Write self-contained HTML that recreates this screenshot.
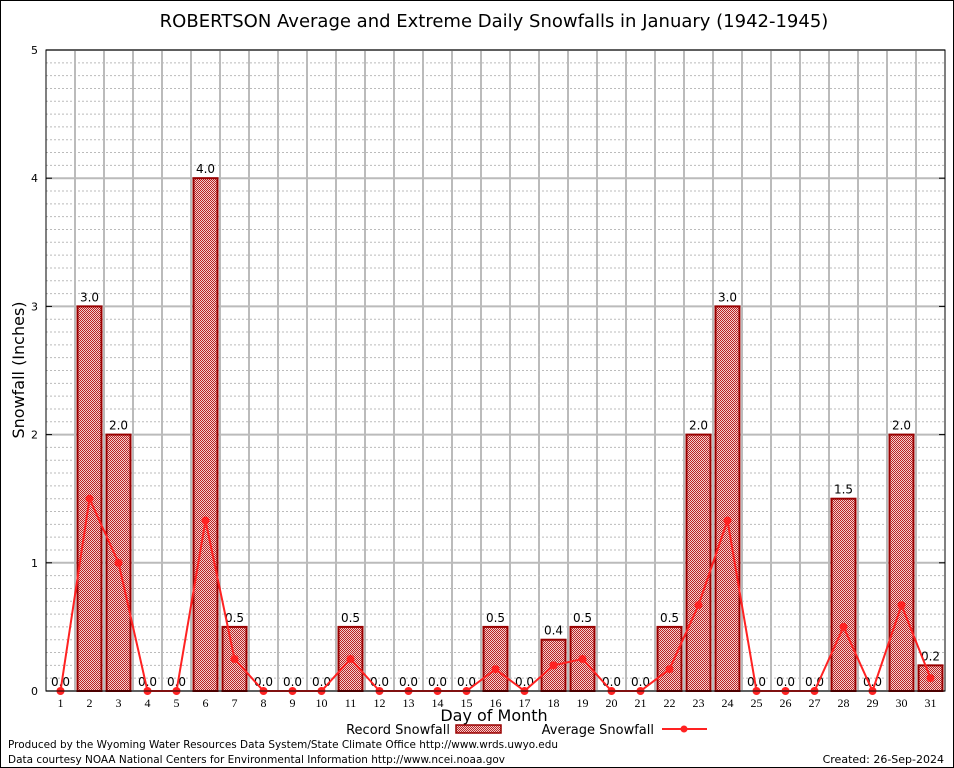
<!DOCTYPE html>
<html><head><meta charset="utf-8"><style>
body{margin:0;background:#fff;}
svg{display:block;font-family:"DejaVu Sans","Liberation Sans",sans-serif;}
</style></head><body>
<svg id="c" width="954" height="768" xmlns="http://www.w3.org/2000/svg">
<defs><pattern id="hatch" width="2" height="2" patternUnits="userSpaceOnUse"><rect width="2" height="2" fill="#f2d0d0"/><rect width="1" height="1" fill="#b22"/><rect x="1" y="1" width="1" height="1" fill="#b22"/></pattern></defs>
<rect x="0.5" y="0.5" width="953" height="767" fill="#fff" stroke="#000"/>
<text x="494" y="27" font-size="18" text-anchor="middle">ROBERTSON Average and Extreme Daily Snowfalls in January (1942-1945)</text>
<g id="grid"></g><g id="bars"></g><g id="line"></g><g id="axes"></g>
<text transform="translate(24,370) rotate(-90)" font-size="16" text-anchor="middle">Snowfall (Inches)</text>
<text x="494" y="721" font-size="16" text-anchor="middle">Day of Month</text>
<g>
<text x="450" y="734" font-size="13" text-anchor="end">Record Snowfall</text>
<rect x="456" y="725" width="45" height="8" fill="url(#hatch)" stroke="#900" stroke-width="1.5"/>
<text x="654" y="734" font-size="13" text-anchor="end">Average Snowfall</text>
<line x1="662" y1="729" x2="707" y2="729" stroke="#f22" stroke-width="2"/>
<circle cx="684" cy="729" r="3.5" fill="#f22"/>
</g>
<text x="8" y="748" font-size="11" textLength="550" lengthAdjust="spacingAndGlyphs">Produced by the Wyoming Water Resources Data System/State Climate Office http://www.wrds.uwyo.edu</text>
<text x="8" y="763" font-size="11" textLength="497" lengthAdjust="spacingAndGlyphs">Data courtesy NOAA National Centers for Environmental Information http://www.ncei.noaa.gov</text>
<text x="944" y="763" font-size="11" text-anchor="end">Created: 26-Sep-2024</text>
</svg>
<script>
const days=[1,2,3,4,5,6,7,8,9,10,11,12,13,14,15,16,17,18,19,20,21,22,23,24,25,26,27,28,29,30,31];
const recordSnow=[0,3,2,0,0,4,0.5,0,0,0,0.5,0,0,0,0,0.5,0,0.4,0.5,0,0,0.5,2,3,0,0,0,1.5,0,2,0.2];
const avgSnow=[0,1.5,1.0,0,0,1.33,0.25,0,0,0,0.25,0,0,0,0,0.17,0,0.2,0.25,0,0,0.17,0.67,1.33,0,0,0,0.5,0,0.67,0.1];
const yTicks=[0,1,2,3,4,5];
const NS="http://www.w3.org/2000/svg";
const L=46,R=945,T=50,B=691,yMax=5;
const xs=d=>L+(R-L)/days.length*(d-0.5);
const ys=v=>B-(B-T)*v/yMax;
function mk(t,a,p){const e=document.createElementNS(NS,t);for(const k in a)e.setAttribute(k,a[k]);p.appendChild(e);return e;}
const g=document.getElementById('grid'),ba=document.getElementById('bars'),ln=document.getElementById('line'),ax=document.getElementById('axes');
for(let i=1;i<yMax*10;i++){if(i%10===0)continue;const y=ys(i/10);
const e=mk('line',{x1:L,x2:R,y1:y,y2:y,stroke:'#bbb','stroke-dasharray':'2,2'},g);

}
yTicks.forEach(v=>{const y=ys(v);
const e=mk('line',{x1:L,x2:R,y1:y,y2:y,stroke:'#bbb','stroke-width':2},g);


const t=mk('text',{x:L-8,y:y+4,'font-size':11,'text-anchor':'end'},ax);t.textContent=v;


mk('line',{x1:L,x2:L+6,y1:y,y2:y,stroke:'#000'},ax);mk('line',{x1:R-6,x2:R,y1:y,y2:y,stroke:'#000'},ax);});
days.forEach((d,i)=>{if(i>0){const x=xs(d)-(R-L)/days.length/2;
const e=mk('line',{x1:x,x2:x,y1:T,y2:B,stroke:'#bbb','stroke-width':2},g);

}
const t=mk('text',{x:xs(d),y:B+16,'font-size':12,'text-anchor':'middle','font-family':'Liberation Serif,serif'},ax);t.textContent=d;


const v=recordSnow[i];
if(v>0){const r=mk('rect',{x:xs(d)-12,y:ys(v),width:24,height:B-ys(v),fill:'url(#hatch)',stroke:'#900','stroke-width':2},ba);

}
const lb=mk('text',{x:xs(d),y:ys(v)-5,'font-size':12,'text-anchor':'middle'},ba);lb.textContent=v.toFixed(1);

});
const pl=mk('polyline',{points:days.map((d,i)=>xs(d)+','+ys(avgSnow[i])).join(' '),fill:'none',stroke:'#f22','stroke-width':2},ln);


days.forEach((d,i)=>{const c=mk('circle',{cx:xs(d),cy:ys(avgSnow[i]),r:4,fill:'#f22'},ln);

});
const fr=mk('rect',{x:L,y:T,width:R-L,height:B-T,fill:'none',stroke:'#000'},ax);


</script>
</body></html>
